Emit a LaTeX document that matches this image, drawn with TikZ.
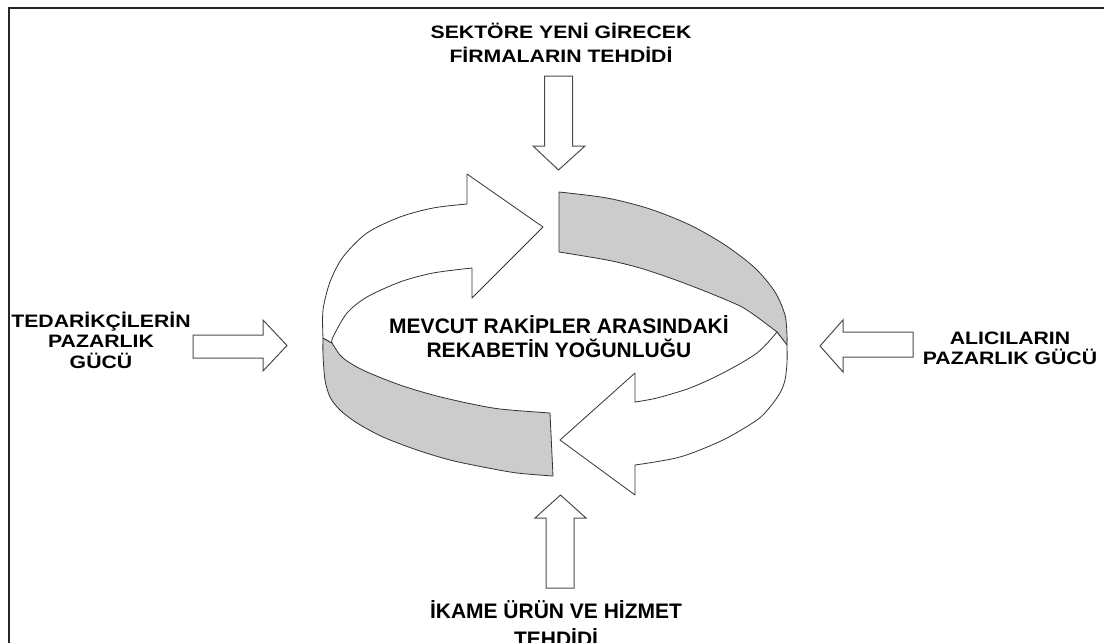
\documentclass[tikz,border=0pt]{standalone}
\usepackage{fontspec}
\setmainfont{Liberation Sans}
\newfontfamily\widefont[FakeStretch=1.18]{Liberation Sans}
\begin{document}
\begin{tikzpicture}[x=1pt,y=-1pt,
  ringline/.style={draw=black!80, line width=0.8pt, line join=round},
  bandface/.style={ringline, fill=black!20},
  arrowface/.style={ringline, fill=white},
  blockarrow/.style={draw=black!70, fill=white, line width=1pt, line join=miter},
  sidelabel/.style={font=\widefont\bfseries\fontsize{18}{22}\selectfont, anchor=base, inner sep=0pt},
  corelabel/.style={font=\bfseries\fontsize{21}{25}\selectfont, anchor=base, inner sep=0pt},
]
\useasboundingbox (0,0) rectangle (1104,643);

% frame (top and left edges)
\draw[line width=1.6pt, black!85] (1110,8) -- (9,8) -- (9,650);

% front wall of the ring (lower left)
\filldraw[bandface] plot[smooth] coordinates {(332,343) (340,355) (350,363) (367,372) (400,385) (433,395) (467,403) (500,409) (550,413)}
  -- (553,476)
  -- plot[smooth] coordinates {(553,476) (517,473) (483,467) (450,460) (417,450) (383,437) (357,423) (340,410) (330,397) (325,380) (323,355) (323,338)}
  -- cycle;

% back wall of the ring (upper right)
\filldraw[bandface] plot[smooth] coordinates {(559,192) (607,198) (650,209) (690,225) (725,245) (755,268) (775,292) (785,315) (787,335) (787,345)}
  -- (777,332)
  -- plot[smooth] coordinates {(777,332) (757,317) (740,306) (707,292) (673,279) (640,268) (607,260) (559,252)}
  -- cycle;

% upper curved arrow
\filldraw[arrowface] plot[smooth] coordinates {(323,338) (323,310) (330,282) (343,257) (367,233) (400,217) (433,208) (467,204)}
  -- (467,174) -- (543,227) -- (472,298)
  -- plot[smooth] coordinates {(472,268) (433,273) (400,282) (367,297) (347,313) (333,337) (332,343)}
  -- cycle;

% lower curved arrow
\filldraw[arrowface] plot[smooth] coordinates {(787,345) (787,363) (785,380) (780,393) (770,407) (757,420) (723,440) (680,457) (635,465)}
  -- (635,495) -- (560,440) -- (635,373)
  -- plot[smooth] coordinates {(635,402) (657,398) (690,388) (723,373) (757,353) (777,332)}
  -- cycle;

% block arrows towards the ring
\draw[blockarrow] (544.5,76) -- (572.5,76) -- (572.5,146) -- (585,146) -- (558.5,170) -- (533,146) -- (544.5,146) -- cycle;
\draw[blockarrow] (546,588) -- (546,518) -- (535,518) -- (560.5,495) -- (586,518) -- (574,518) -- (574,588) -- cycle;
\draw[blockarrow] (193,335) -- (263,335) -- (263,320) -- (287,345.5) -- (263,371) -- (263,358) -- (193,358) -- cycle;
\draw[blockarrow] (913,332) -- (843,332) -- (843,320) -- (820,346) -- (843,372) -- (843,357) -- (913,357) -- cycle;

% labels
\node[sidelabel] (entrantsA) at (561,38) {SEKTÖRE YENİ GİRECEK};
\node[sidelabel] (entrantsB) at (561,62) {FİRMALARIN TEHDİDİ};

\node[sidelabel] (suppliersA) at (101,327) {TEDARİKÇİLERİN};
\node[sidelabel] (suppliersB) at (101,347) {PAZARLIK};
\node[sidelabel] (suppliersC) at (101,368) {GÜCÜ};

\node[sidelabel] (buyersA) at (1010,344) {ALICILARIN};
\node[sidelabel] (buyersB) at (1010,364) {PAZARLIK GÜCÜ};

\node[corelabel] (rivalryA) at (559,333) {MEVCUT RAKİPLER ARASINDAKİ};
\node[corelabel] (rivalryB) at (559,357) {REKABETİN YOĞUNLUĞU};

\node[corelabel] (substA) at (556,618) {İKAME ÜRÜN VE HİZMET};
\node[corelabel] (substB) at (556,646) {TEHDİDİ};
\end{tikzpicture}
\end{document}
